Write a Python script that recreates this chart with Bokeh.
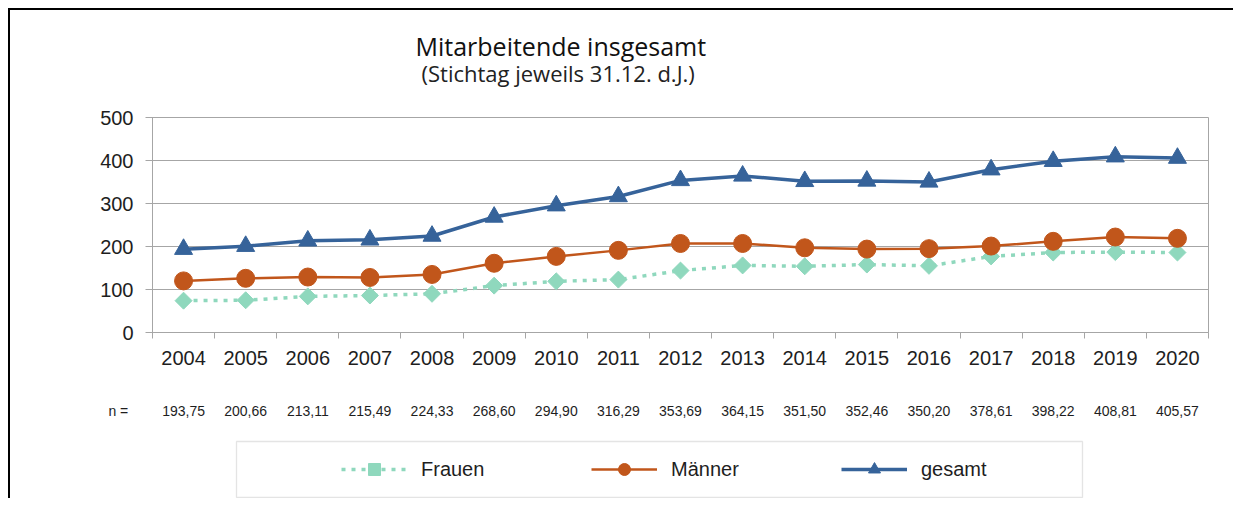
from bokeh.plotting import figure
from bokeh.models import Range1d, FixedTicker, LinearAxis, Legend, LegendItem, Label, BoxAnnotation
from bokeh.embed import file_html
from bokeh.resources import INLINE
import numpy as np

years = [str(y) for y in range(2004, 2021)]
frauen = [74, 75, 84, 86, 90, 109, 119, 123, 144, 156, 154, 158, 155, 177, 186, 187, 186]
maenner = [120, 126, 129, 128, 135, 161, 177, 191, 207, 207, 197, 194, 195, 201, 212, 222, 219]
gesamt = [193.75, 200.66, 213.11, 215.49, 224.33, 268.60, 294.90, 316.29, 353.69,
          364.15, 351.50, 352.46, 350.20, 378.61, 398.22, 408.81, 405.57]
y_ticks = [0, 100, 200, 300, 400, 500]
n_labels = [f"{v:.2f}".replace(".", ",") for v in gesamt]

x = list(range(len(years)))

MINT = "#8FD8BD"
ORANGE = "#C1561B"
BLUE = "#36639A"
GRAY = "#A6A6A6"
TXT = "#1E1E1E"
FONT = "Liberation Sans"

# canvas and plot-area geometry (pixels); the frame covers the whole canvas
W, H = 1225, 490
PL, PR, PT, PB = 142, 1198, 107, 322
x_lo, x_hi = -0.5, len(years) - 0.5
y_lo, y_hi = 0, 500
ux = (PR - PL) / (x_hi - x_lo)
uy = (PB - PT) / (y_hi - y_lo)
xr = Range1d(x_lo - PL / ux, x_hi + (W - PR) / ux)
yr = Range1d(y_lo - (H - PB) / uy, y_hi + PT / uy)

p = figure(width=W, height=H, x_range=xr, y_range=yr,
           output_backend="svg", toolbar_location=None,
           x_axis_location=None, y_axis_location=None,
           min_border_left=0, min_border_right=0, min_border_top=0, min_border_bottom=0)
p.styles = {"border-top": "2px solid #000000", "border-left": "2px solid #000000",
            "margin-left": "8px", "margin-top": "8px"}
p.outline_line_color = None
p.xgrid.visible = False
p.ygrid.visible = False

# x axis (years), on y = 0, ticks between categories
xa = LinearAxis(fixed_location=y_lo, bounds=(x_lo, x_hi),
                ticker=FixedTicker(ticks=x, minor_ticks=[i - 0.5 for i in range(len(years) + 1)]))
xa.major_label_overrides = {i: years[i] for i in x}
xa.major_tick_out = 0
xa.major_tick_in = 0
xa.minor_tick_out = 6
xa.minor_tick_in = 0
xa.minor_tick_line_color = GRAY
xa.axis_line_color = GRAY
xa.major_label_standoff = 12
xa.major_label_text_font = FONT
xa.major_label_text_font_size = "20px"
xa.major_label_text_color = TXT
p.add_layout(xa, "below")

# n = row (the "n =" caption sits left of the first year)
n_pos = -1.05
na = LinearAxis(fixed_location=y_lo, bounds=(n_pos - 0.1, x_hi),
                ticker=FixedTicker(ticks=[n_pos] + x, minor_ticks=[]))
na.major_label_overrides = {**{n_pos: "n ="}, **{i: n_labels[i] for i in x}}
na.axis_line_alpha = 0
na.major_tick_out = 0
na.major_tick_in = 0
na.minor_tick_out = 0
na.major_label_standoff = 70
na.major_label_text_font = FONT
na.major_label_text_font_size = "14px"
na.major_label_text_color = TXT
p.add_layout(na, "below")

# y axis on x = -0.5; its inner ticks span the plot area and act as grid lines
ya = LinearAxis(fixed_location=x_lo, bounds=(y_lo, y_hi),
                ticker=FixedTicker(ticks=y_ticks, minor_ticks=[]))
ya.level = "underlay"
ya.major_tick_out = 7
ya.major_tick_in = PR - PL
ya.minor_tick_out = 0
ya.major_tick_line_color = GRAY
ya.major_tick_line_width = 1
ya.axis_line_color = GRAY
ya.major_label_standoff = 12
ya.major_label_text_font = FONT
ya.major_label_text_font_size = "20px"
ya.major_label_text_color = TXT
p.add_layout(ya, "left")

# right border of the plot area
ra = LinearAxis(fixed_location=x_hi, bounds=(y_lo, y_hi),
                ticker=FixedTicker(ticks=[], minor_ticks=[]))
ra.level = "underlay"
ra.axis_line_color = GRAY
ra.major_tick_out = 0
ra.major_tick_in = 0
ra.minor_tick_out = 0
ra.major_label_text_alpha = 0
p.add_layout(ra, "right")

# series
lf = p.line(x, frauen, line_color=MINT, line_width=3.5, line_dash="4 6")
sf = p.scatter(x, frauen, marker="square", angle=np.pi / 4, size=12,
               fill_color=MINT, line_color=MINT)
lm = p.line(x, maenner, line_color=ORANGE, line_width=2.5)
sm = p.scatter(x, maenner, marker="circle", size=18, fill_color=ORANGE, line_color=ORANGE)
lg = p.line(x, gesamt, line_color=BLUE, line_width=3.5)
sg = p.scatter(x, gesamt, marker="triangle", size=18, fill_color=BLUE, line_color=BLUE)

# titles
p.add_layout(Label(x=405, y=H - 35, x_units="screen", y_units="screen",
                   text="Mitarbeitende insgesamt", text_font="Open Sans",
                   text_font_size="25px", text_color="#111111",
                   text_baseline="alphabetic", text_align="left"))
p.add_layout(Label(x=411, y=H - 62, x_units="screen", y_units="screen",
                   text="(Stichtag jeweils 31.12. d.J.)", text_font="Open Sans",
                   text_font_size="22px", text_color="#222222",
                   text_baseline="alphabetic", text_align="left"))

# legend box and legend
p.add_layout(BoxAnnotation(left=226, right=1072, bottom=3, top=59,
                           left_units="screen", right_units="screen",
                           top_units="screen", bottom_units="screen",
                           fill_alpha=0, line_color=GRAY, line_width=1.3))
legend = Legend(items=[LegendItem(label="Frauen", renderers=[lf, sf]),
                       LegendItem(label="Männer", renderers=[lm, sm]),
                       LegendItem(label="gesamt", renderers=[lg, sg])],
                location=(331, 16), orientation="horizontal",
                glyph_width=66, glyph_height=30, label_standoff=14, label_width=148,
                spacing=22, padding=0, margin=0,
                border_line_alpha=0, background_fill_alpha=0,
                label_text_font=FONT, label_text_font_size="20px", label_text_color=TXT)
p.add_layout(legend, "center")

open("out.html", "w").write(file_html(p, INLINE))
